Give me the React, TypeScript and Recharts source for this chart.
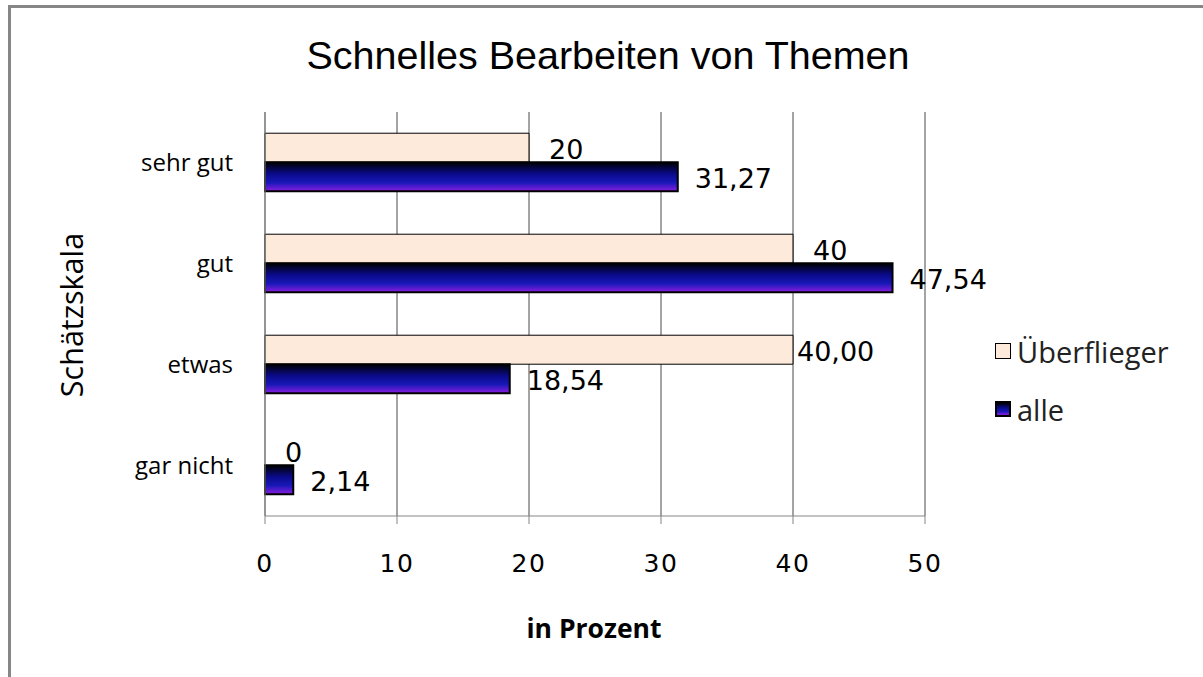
import { Bar, BarChart, CartesianGrid, LabelList, Legend, Rectangle, XAxis, YAxis } from "recharts";

const categories = ["sehr gut", "gut", "etwas", "gar nicht"];
const ueberflieger = [20, 40, 40, 0];
const alle = [31.27, 47.54, 18.54, 2.14];
const ueberfliegerLabels = ["20", "40", "40,00", "0"];
const alleLabels = ["31,27", "47,54", "18,54", "2,14"];
const xTicks = [0, 10, 20, 30, 40, 50];

const data = categories.map((name, i) => ({
  name,
  ueberflieger: ueberflieger[i],
  alle: alle[i],
}));

const GRID = "#868686";
const LIGHT = "#FDEADA";
const WORD_FONT = "'Open Sans', sans-serif";
const NUM_FONT = "'DejaVu Sans', sans-serif";

const makeLabel = (texts: string[], dark: boolean) => (props: any) => {
  const { x, y, width, height, index } = props;
  const shift = !dark && index === 2 ? 4 : dark ? 17 : 20;
  return (
    <text
      x={Number(x) + Number(width) + shift}
      y={Number(y) + Number(height) / 2 + 2}
      dominantBaseline="central"
      fontFamily={NUM_FONT}
      fontSize={27}
      fill="#000"
    >
      {texts[index]}
    </text>
  );
};

// zero-length bars still need their label, so they get a tiny size but no shape
const hideZero = (key: string) => (props: any) =>
  props.payload && props.payload[key] === 0 ? <g /> : <Rectangle {...props} />;

function LegendBox() {
  const items = [
    { label: "Überflieger", bg: LIGHT, border: "1px solid #000" },
    {
      label: "alle",
      bg: "linear-gradient(#000 0%, #0a0a8a 40%, #1818b8 70%, #8a1ee0 100%)",
      border: "2px solid #000",
    },
  ];
  return (
    <div style={{ fontFamily: WORD_FONT, fontSize: 29, color: "#222" }}>
      {items.map((it) => (
        <div
          key={it.label}
          style={{ display: "flex", alignItems: "center", height: 58 }}
        >
          <span
            style={{
              display: "inline-block",
              width: 16,
              height: 16,
              boxSizing: "border-box",
              background: it.bg,
              border: it.border,
              marginRight: 6,
            }}
          />
          {it.label}
        </div>
      ))}
    </div>
  );
}

export default function App() {
  return (
    <div
      style={{
        position: "absolute",
        left: 0,
        top: 0,
        width: 1203,
        height: 677,
        background: "#fff",
        overflow: "hidden",
      }}
    >
      <div
        style={{
          position: "absolute",
          left: 8,
          top: 5,
          width: 1200,
          height: 680,
          borderTop: `3px solid ${GRID}`,
          borderLeft: `3px solid ${GRID}`,
        }}
      />
      <div
        style={{
          position: "absolute",
          left: 0,
          top: 33,
          width: 1216,
          textAlign: "center",
          fontFamily: "'Liberation Sans', Arial, sans-serif",
          fontSize: 39.5,
          color: "#000",
        }}
      >
        Schnelles Bearbeiten von Themen
      </div>
      <div
        style={{
          position: "absolute",
          left: 71,
          top: 315,
          transform: "translate(-50%, -50%) rotate(-90deg)",
          whiteSpace: "nowrap",
          fontFamily: WORD_FONT,
          fontSize: 30.5,
          color: "#000",
        }}
      >
        Schätzskala
      </div>
      <div
        style={{
          position: "absolute",
          left: 594,
          top: 628,
          transform: "translate(-50%, -50%)",
          whiteSpace: "nowrap",
          fontFamily: WORD_FONT,
          fontWeight: 700,
          fontSize: 26.5,
          color: "#000",
        }}
      >
        in Prozent
      </div>
      <div style={{ position: "absolute", left: 0, top: 0 }}>
        <BarChart
          layout="vertical"
          width={1203}
          height={677}
          data={data}
          margin={{ top: 112, right: 278, bottom: 121, left: 0 }}
          barCategoryGap="21%"
          barGap={0}
        >
          <defs>
            <linearGradient id="alleGrad" x1="0" y1="0" x2="0" y2="1">
              <stop offset="0%" stopColor="#000000" />
              <stop offset="40%" stopColor="#0a0a8a" />
              <stop offset="70%" stopColor="#1818b8" />
              <stop offset="100%" stopColor="#8a1ee0" />
            </linearGradient>
          </defs>
          <CartesianGrid horizontal={false} stroke={GRID} strokeWidth={1.5} />
          <XAxis
            type="number"
            domain={[0, 50]}
            ticks={xTicks}
            height={40}
            stroke={GRID}
            tickSize={8}
            tickMargin={30}
            tick={{ fill: "#000", fontSize: 25, fontFamily: NUM_FONT, letterSpacing: 1.5 }}
          />
          <YAxis
            type="category"
            dataKey="name"
            width={265}
            stroke={GRID}
            tickLine={false}
            tickMargin={26}
            tick={{ fill: "#000", fontSize: 24, fontFamily: WORD_FONT }}
          />
          <Legend
            layout="vertical"
            align="center"
            verticalAlign="middle"
            wrapperStyle={{ left: 995, top: 322, width: 200 }}
            content={() => <LegendBox />}
          />
          <Bar
            dataKey="ueberflieger"
            name="Überflieger"
            fill={LIGHT}
            stroke="#000"
            strokeWidth={1}
            minPointSize={0.01}
            shape={hideZero("ueberflieger")}
            isAnimationActive={false}
          >
            <LabelList dataKey="ueberflieger" content={makeLabel(ueberfliegerLabels, false)} />
          </Bar>
          <Bar
            dataKey="alle"
            name="alle"
            fill="url(#alleGrad)"
            stroke="#000"
            strokeWidth={2}
            isAnimationActive={false}
          >
            <LabelList dataKey="alle" content={makeLabel(alleLabels, true)} />
          </Bar>
        </BarChart>
      </div>
    </div>
  );
}
